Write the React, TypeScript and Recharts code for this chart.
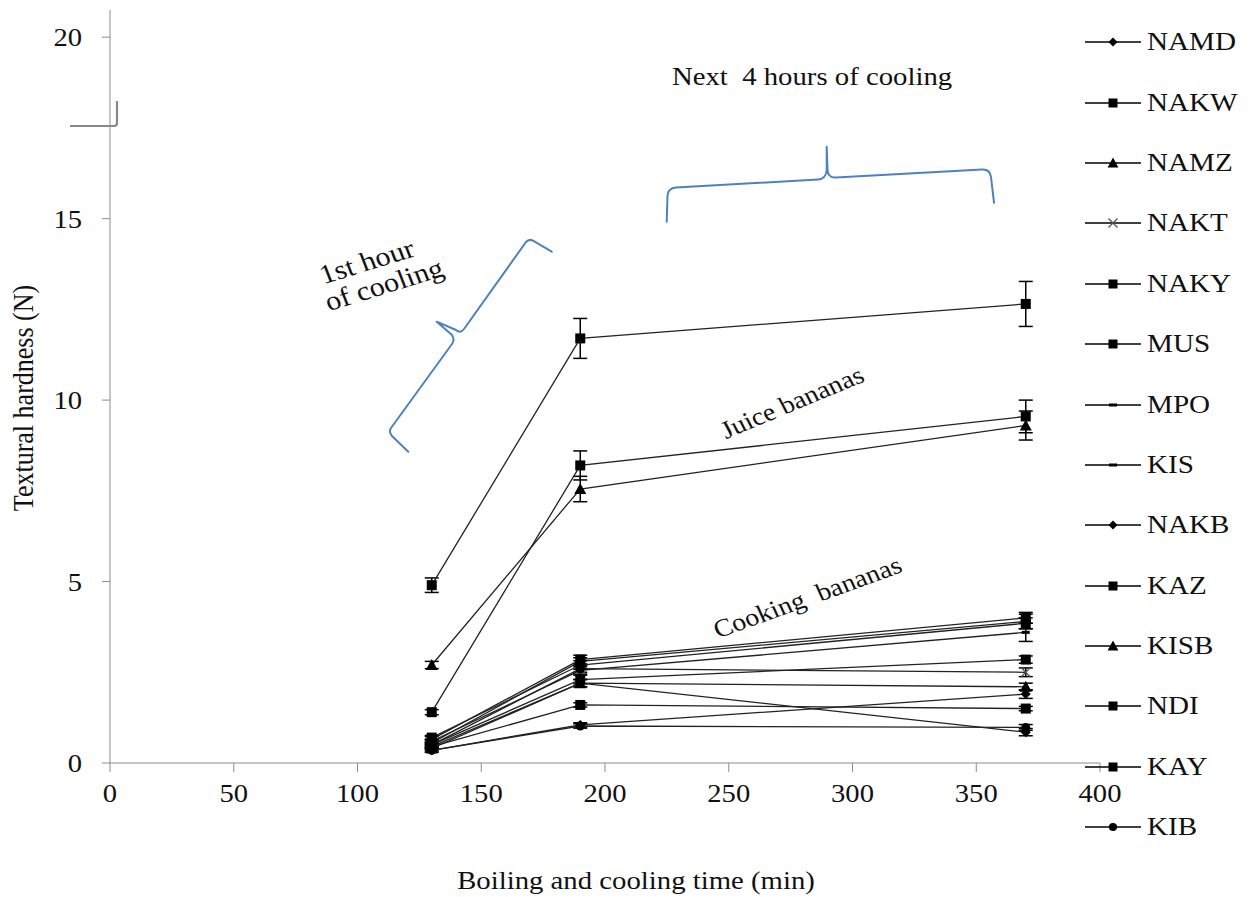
import React from 'react';
import { LineChart, Line, XAxis, YAxis, ErrorBar, Legend } from 'recharts';

// ---- data ----
const times = [130, 190, 370];
const xTicks = [0, 50, 100, 150, 200, 250, 300, 350, 400];
const yTicks = [0, 5, 10, 15, 20];

const seriesNames = ['NAMD', 'NAKW', 'NAMZ', 'NAKT', 'NAKY', 'MUS', 'MPO', 'KIS', 'NAKB', 'KAZ', 'KISB', 'NDI', 'KAY', 'KIB'];
const markerShapes = ['diamond', 'square', 'triangle', 'cross', 'square', 'square', 'dash', 'dash', 'diamond', 'square', 'triangle', 'square', 'square', 'circle'];

// juice bananas
const NAKW = [4.9, 11.7, 12.65];
const NAKW_err = [0.2, 0.55, 0.62];
const MUS = [1.4, 8.2, 9.55];
const MUS_err = [0.07, 0.4, 0.45];
const NAMZ = [2.7, 7.55, 9.3];
const NAMZ_err = [0.1, 0.35, 0.4];
// cooking bananas
const NAMD = [0.45, 2.2, 0.85];
const NAMD_err = [0.06, 0.1, 0.1];
const NAKT = [0.5, 2.6, 2.5];
const NAKT_err = [0.06, 0.1, 0.12];
const NAKY = [0.65, 2.85, 4.0];
const NAKY_err = [0.08, 0.12, 0.15];
const MPO = [0.55, 2.8, 3.9];
const MPO_err = [0.06, 0.1, 0.2];
const KIS = [0.6, 2.55, 3.6];
const KIS_err = [0.06, 0.1, 0.25];
const NAKB = [0.35, 1.05, 1.9];
const NAKB_err = [0.05, 0.06, 0.12];
const KAZ = [0.5, 2.3, 2.85];
const KAZ_err = [0.06, 0.12, 0.1];
const KISB = [0.4, 2.2, 2.1];
const KISB_err = [0.05, 0.1, 0.1];
const NDI = [0.45, 1.6, 1.5];
const NDI_err = [0.05, 0.06, 0.06];
const KAY = [0.7, 2.7, 3.85];
const KAY_err = [0.06, 0.12, 0.15];
const KIB = [0.35, 1.02, 0.98];
const KIB_err = [0.05, 0.06, 0.08];

const seriesValues: Record<string, number[]> = { NAMD, NAKW, NAMZ, NAKT, NAKY, MUS, MPO, KIS, NAKB, KAZ, KISB, NDI, KAY, KIB };
const seriesErrors: Record<string, number[]> = {
  NAMD: NAMD_err, NAKW: NAKW_err, NAMZ: NAMZ_err, NAKT: NAKT_err, NAKY: NAKY_err, MUS: MUS_err, MPO: MPO_err,
  KIS: KIS_err, NAKB: NAKB_err, KAZ: KAZ_err, KISB: KISB_err, NDI: NDI_err, KAY: KAY_err, KIB: KIB_err,
};

const tableData = times.map((t, i) => {
  const row: Record<string, number> = { t };
  seriesNames.forEach((n) => {
    row[n] = seriesValues[n][i];
    row[n + '_err'] = seriesErrors[n][i];
  });
  return row;
});

const FONT = '"Liberation Serif", "Times New Roman", serif';
const AXIS = '#8c8c8c';
const INK = '#111';
const SX = 1.1; // horizontal stretch of the reference text

function Marker({ shape, cx, cy, legend }: { shape: string; cx: number; cy: number; legend?: boolean }) {
  const s = legend ? 0.9 : 1;
  switch (shape) {
    case 'square':
      return <rect x={cx - 5 * s} y={cy - 5 * s} width={10 * s} height={10 * s} fill="#000" />;
    case 'diamond':
      return <path d={`M${cx},${cy - 5 * s}L${cx + 5 * s},${cy}L${cx},${cy + 5 * s}L${cx - 5 * s},${cy}Z`} fill="#000" />;
    case 'triangle':
      return <path d={`M${cx},${cy - 6 * s}L${cx + 6 * s},${cy + 5 * s}L${cx - 6 * s},${cy + 5 * s}Z`} fill="#000" />;
    case 'cross':
      return (
        <path
          d={`M${cx - 4.5},${cy - 4.5}L${cx + 4.5},${cy + 4.5}M${cx - 4.5},${cy + 4.5}L${cx + 4.5},${cy - 4.5}`}
          stroke="#555"
          strokeWidth={1.3}
        />
      );
    case 'dash':
      return <rect x={cx - 4} y={cy - 1.5} width={8} height={3} fill="#000" />;
    case 'circle':
      return <circle cx={cx} cy={cy} r={4.5 * s} fill="#000" />;
    default:
      return null;
  }
}

function LegendContent() {
  return (
    <div style={{ fontFamily: FONT, fontSize: 26, color: INK }}>
      {seriesNames.map((n, i) => (
        <div key={n} style={{ height: 60.4, display: 'flex', alignItems: 'center' }}>
          <svg width={62} height={20} style={{ display: 'block', flex: 'none' }}>
            <line x1={0} y1={10} x2={56} y2={10} stroke="#000" strokeWidth={1.3} />
            <Marker shape={markerShapes[i]} cx={28} cy={10} legend />
          </svg>
          <span
            style={{
              lineHeight: '26px',
              display: 'inline-block',
              transform: `scaleX(${SX + 0.02})`,
              transformOrigin: 'left center',
              whiteSpace: 'nowrap',
            }}
          >
            {n}
          </span>
        </div>
      ))}
    </div>
  );
}

function XTick(props: any) {
  const { x, y, payload } = props;
  return (
    <g transform={`translate(${x},${y}) scale(${SX},1)`}>
      <text x={0} y={0} dy="0.71em" textAnchor="middle" fontFamily={FONT} fontSize={26} fill={INK}>
        {payload.value}
      </text>
    </g>
  );
}

function YTick(props: any) {
  const { x, y, payload } = props;
  return (
    <g transform={`translate(${x},${y}) scale(${SX},1)`}>
      <text x={0} y={0} dy="0.355em" textAnchor="end" fontFamily={FONT} fontSize={26} fill={INK}>
        {payload.value}
      </text>
    </g>
  );
}

function SText({ x, y, rotate = 0, size = 25, sx = SX, children }: any) {
  return (
    <g transform={`translate(${x},${y}) scale(${sx},1) rotate(${rotate})`}>
      <text x={0} y={0} fontSize={size} textAnchor="middle" fontFamily={FONT} fill={INK} xmlSpace="preserve">
        {children}
      </text>
    </g>
  );
}

export default function App() {
  return (
    <div style={{ position: 'absolute', left: 0, top: 0, width: 1249, height: 897, background: '#fff' }}>
      <LineChart width={1249} height={897} data={tableData} margin={{ top: 10, right: 149, left: 0, bottom: 0 }}>
        <XAxis
          type="number"
          dataKey="t"
          domain={[0, 400]}
          ticks={xTicks}
          interval={0}
          height={134}
          tickSize={9}
          tickMargin={12}
          stroke={AXIS}
          tickLine={{ stroke: AXIS }}
          tick={<XTick />}
        />
        <YAxis
          type="number"
          domain={[0, 20.75]}
          ticks={yTicks}
          interval={0}
          width={110}
          tickSize={8}
          tickMargin={20}
          stroke={AXIS}
          tickLine={{ stroke: AXIS }}
          tick={<YTick />}
          allowDataOverflow
        />
        <Legend
          layout="vertical"
          align="center"
          verticalAlign="middle"
          wrapperStyle={{ left: 1085, top: 12, width: 164 }}
          content={() => <LegendContent />}
        />
        {seriesNames.map((n, i) => (
          <Line
            key={n}
            type="linear"
            dataKey={n}
            name={n}
            stroke="#222"
            strokeWidth={1.3}
            isAnimationActive={false}
            dot={(p: any) => <Marker key={`${n}-${p.index}`} shape={markerShapes[i]} cx={p.cx} cy={p.cy} />}
            activeDot={false}
          >
            <ErrorBar dataKey={n + '_err'} direction="y" width={7} stroke="#000" strokeWidth={1.5} />
          </Line>
        ))}
      </LineChart>
      <svg
        width={1249}
        height={897}
        style={{ position: 'absolute', left: 0, top: 0, pointerEvents: 'none' }}
      >
        <SText x={636} y={889} size={25} sx={1.15}>Boiling and cooling time (min)</SText>
        <g transform="translate(33,398) scale(1.1,1) rotate(-90)">
          <text x={0} y={0} fontSize={26} textAnchor="middle" fontFamily={FONT} fill={INK}>
            Textural hardness (N)
          </text>
        </g>
        <SText x={812} y={85} size={25} sx={1.15}>Next  4 hours of cooling</SText>
        <g transform="translate(370,270) scale(1.12,1) rotate(-19)" fontFamily={FONT} fill={INK}>
          <text x={0} y={0} fontSize={27} textAnchor="middle">1st hour</text>
          <text x={7} y={27} fontSize={27} textAnchor="middle">of cooling</text>
        </g>
        <SText x={796} y={410} rotate={-25} size={25} sx={1.12}>Juice bananas</SText>
        <SText x={811} y={605} rotate={-22} size={25} sx={1.12}>Cooking  bananas</SText>
        <g fill="none" stroke="#4f81bd" strokeWidth={2} strokeLinecap="round" strokeLinejoin="round">
          <path d="M666.7,221.7 L667.5,196 Q668,188 676,187.5 L818,179.5 Q826,179 826.7,170 L826.7,146.7 L827.5,170 Q828,178 836,177.5 L982,169.5 Q990,169 991,177 L994,202.7" />
          <path d="M551.7,251.7 L533,240.7 Q529,238.5 526,242 L464,329 Q460,334 456,330 L436.7,321.7 L452,335 Q455,340 452,344 L391,428 Q388.5,432 392,436 L408.3,451.7" />
        </g>
        <path d="M70,126 L114,126 Q117,126 117,123 L117,101" fill="none" stroke="#888" strokeWidth={2.2} />
      </svg>
    </div>
  );
}
